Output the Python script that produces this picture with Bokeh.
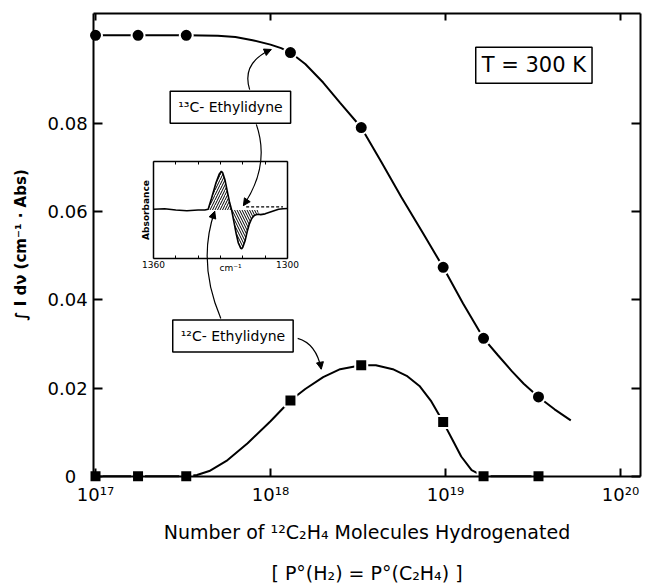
import numpy as np
from bokeh.plotting import figure
from bokeh.models import (Range1d, LinearAxis, LogAxis, FixedTicker, Label, Arrow,
                          NormalHead, LinearScale)
from bokeh.embed import file_html
from bokeh.resources import INLINE

# ---------------- data ----------------
n_hydrogenated = [1.0e17, 1.75e17, 3.3e17, 1.3e18, 3.3e18, 9.7e18, 1.65e19, 3.4e19]
c13_ethylidyne = [0.100, 0.100, 0.100, 0.0961, 0.0791, 0.0474, 0.0313, 0.0180]
c12_ethylidyne = [0.0, 0.0, 0.0, 0.0172, 0.0252, 0.0123, 0.0, 0.0]

# hand-drawn smooth curves
c13_curve_x = [1.0e17, 1.75e17, 3.3e17, 5.0e17, 6.3e17, 7.9e17, 1.0e18, 1.15e18, 1.3e18,
               1.58e18, 2.0e18, 2.5e18, 3.3e18, 4.3e18, 5.6e18, 7.4e18, 9.7e18, 1.26e19,
               1.65e19, 2.0e19, 2.4e19, 2.8e19, 3.4e19, 4.2e19, 5.2e19]
c13_curve_y = [0.100, 0.100, 0.100, 0.0999, 0.0996, 0.0989, 0.0979, 0.0971, 0.0961,
               0.0935, 0.0893, 0.0847, 0.0791, 0.0713, 0.0633, 0.0553, 0.0474, 0.0392,
               0.0313, 0.0274, 0.0238, 0.0210, 0.0180, 0.0152, 0.0127]
c12_curve_x = [1.0e17, 1.75e17, 3.3e17, 3.8e17, 4.47e17, 5.6e17, 7.4e17, 1.0e18, 1.3e18,
               1.58e18, 2.0e18, 2.5e18, 3.3e18, 4.0e18, 5.0e18, 6.0e18, 7.1e18, 8.3e18,
               9.7e18, 1.1e19, 1.23e19, 1.41e19, 1.65e19, 3.4e19]
c12_curve_y = [0.0, 0.0, 0.0, 0.0003, 0.0012, 0.0035, 0.0075, 0.0125, 0.0172,
               0.0198, 0.0225, 0.0243, 0.0252, 0.0252, 0.0243, 0.0228, 0.0205, 0.0170,
               0.0123, 0.0082, 0.0045, 0.0014, 0.0, 0.0]

# inset IR spectrum (difference spectrum)
wavenumber = [1360, 1355, 1350, 1345, 1340, 1337, 1335.5, 1334, 1332, 1330.5, 1329.6, 1329,
              1328, 1327, 1326, 1325, 1324, 1323, 1322, 1321, 1320.5, 1320, 1319, 1318,
              1317, 1316, 1315, 1314, 1313, 1312, 1310, 1308, 1306, 1304, 1302, 1300]
absorbance = [0.02, 0.03, 0.0, -0.02, 0.0, 0.0, 0.02, 0.3, 0.7, 0.93, 1.0, 0.96,
              0.78, 0.5, 0.22, 0.0, -0.3, -0.6, -0.85, -0.98, -1.0, -0.96, -0.8, -0.55,
              -0.35, -0.22, -0.15, -0.12, -0.11, -0.12, -0.1, -0.06, -0.02, 0.02, 0.03, 0.04]
dashed_base_x = [1318.5, 1302]
dashed_base_y = [0.08, 0.08]

x_ticks = [1e17, 1e18, 1e19, 1e20]
x_tick_labels = ["10¹⁷", "10¹⁸", "10¹⁹", "10²⁰"]
y_ticks = [0, 0.02, 0.04, 0.06, 0.08]
inset_ticks = [1300, 1310, 1320, 1330, 1340, 1350, 1360]

# ---------------- layout constants ----------------
# axes box of the graph
BOX_X = (10 ** 16.989, 10 ** 20.114)
BOX_Y = (0.0, 0.1049)
# whole drawing area (the axes are drawn at fixed places inside it)
VIEW_X = (10 ** 16.457, 10 ** 20.143)
VIEW_Y = (-0.0252, 0.1079)
# inset frame, in main-axis coordinates
INSET_L, INSET_R = 10 ** 17.331, 10 ** 18.097
INSET_B, INSET_T = 0.0494, 0.0714
WN_LEFT, WN_RIGHT = 1360, 1300
AB_BOT, AB_TOP = -1.25, 1.25

FONT = "DejaVu Sans"
INK = "black"

p = figure(width=645, height=587, x_axis_type="log",
           x_range=Range1d(*VIEW_X), y_range=Range1d(*VIEW_Y),
           output_backend="svg", toolbar_location=None,
           min_border_left=0, min_border_right=0, min_border_top=0, min_border_bottom=0)
p.outline_line_color = None
p.grid.visible = False
p.background_fill_color = "white"
p.border_fill_color = "white"

frame_style = dict(axis_line_width=2, major_tick_line_width=2, major_tick_out=0,
                   minor_tick_line_color=None, axis_line_color=INK,
                   major_tick_line_color=INK)

# bottom axis, drawn on the y = 0 line
xa = p.below[0]
xa.update(fixed_location=BOX_Y[0], bounds=BOX_X, ticker=FixedTicker(ticks=x_ticks),
          major_label_overrides=dict(zip(x_ticks, x_tick_labels)), major_tick_in=8,
          major_label_standoff=8, major_label_text_font=FONT,
          major_label_text_font_size="18px", major_label_text_color=INK,
          axis_label="Number of ¹²C₂H₄ Molecules Hydrogenated", axis_label_text_font=FONT,
          axis_label_text_font_size="19px", axis_label_text_font_style="normal",
          axis_label_text_color=INK, axis_label_standoff=12, **frame_style)

ya = p.left[0]
ya.update(fixed_location=BOX_X[0], bounds=BOX_Y, ticker=FixedTicker(ticks=y_ticks),
          major_label_overrides={0: "0\u2007"}, major_tick_in=9, major_label_standoff=6,
          major_label_text_font=FONT, major_label_text_font_size="18px",
          major_label_text_color=INK, axis_label="∫ I dν (cm⁻¹ · Abs)",
          axis_label_text_font=FONT, axis_label_text_font_size="15px",
          axis_label_text_font_style="bold", axis_label_text_color=INK,
          axis_label_standoff=14, **frame_style)

top_axis = LogAxis(fixed_location=BOX_Y[1], bounds=BOX_X, ticker=FixedTicker(ticks=x_ticks),
                   major_tick_in=7, major_label_text_color=None, **frame_style)
p.add_layout(top_axis, "above")
right_axis = LinearAxis(fixed_location=BOX_X[1], bounds=BOX_Y,
                        ticker=FixedTicker(ticks=y_ticks), major_tick_in=9,
                        major_label_text_color=None, **frame_style)
p.add_layout(right_axis, "right")

# ---------------- main curves and markers ----------------
p.line(c13_curve_x, c13_curve_y, line_color=INK, line_width=2)
p.line(c12_curve_x, c12_curve_y, line_color=INK, line_width=2)
p.scatter(n_hydrogenated, c13_ethylidyne, marker="circle", size=13,
          fill_color=INK, line_color="white", line_width=2)
p.scatter(n_hydrogenated, c12_ethylidyne, marker="square", size=12,
          fill_color=INK, line_color="white", line_width=2)

# ---------------- inset, mapped onto the main drawing area ----------------
lmin, lmax = np.log10(VIEW_X[0]), np.log10(VIEW_X[1])
fl = (np.log10(INSET_L) - lmin) / (lmax - lmin)
fr = (np.log10(INSET_R) - lmin) / (lmax - lmin)
k = (WN_RIGHT - WN_LEFT) / (fr - fl)
ix = Range1d(WN_LEFT - fl * k, WN_LEFT + (1 - fl) * k)
fb = (INSET_B - VIEW_Y[0]) / (VIEW_Y[1] - VIEW_Y[0])
ft = (INSET_T - VIEW_Y[0]) / (VIEW_Y[1] - VIEW_Y[0])
ky = (AB_TOP - AB_BOT) / (ft - fb)
iy = Range1d(AB_BOT - fb * ky, AB_BOT + (1 - fb) * ky)
p.extra_x_ranges = {"ix": ix}
p.extra_y_ranges = {"iy": iy}
p.extra_x_scales = {"ix": LinearScale()}
p.extra_y_scales = {"iy": LinearScale()}

inset_style = dict(x_range_name="ix", y_range_name="iy", axis_line_width=1.5,
                   minor_tick_line_color=None, major_tick_out=0, major_tick_line_width=1)
inset_labels = {t: "" for t in inset_ticks}
inset_labels[1360] = "1360"
inset_labels[1300] = "1300"
ib = LinearAxis(fixed_location=AB_BOT, bounds=(WN_RIGHT, WN_LEFT),
                ticker=FixedTicker(ticks=inset_ticks), major_label_overrides=inset_labels,
                major_tick_in=3, major_label_standoff=3, major_label_text_font=FONT,
                major_label_text_font_size="9px", major_label_text_color=INK, **inset_style)
p.add_layout(ib, "below")
it = LinearAxis(fixed_location=AB_TOP, bounds=(WN_RIGHT, WN_LEFT),
                ticker=FixedTicker(ticks=inset_ticks), major_tick_in=3,
                major_label_text_color=None, **inset_style)
p.add_layout(it, "above")
il = LinearAxis(fixed_location=WN_LEFT, bounds=(AB_BOT, AB_TOP), ticker=FixedTicker(ticks=[]),
                axis_label="Absorbance", axis_label_text_font=FONT,
                axis_label_text_font_size="9px", axis_label_text_font_style="bold",
                axis_label_text_color=INK, axis_label_standoff=3, **inset_style)
p.add_layout(il, "left")
ir = LinearAxis(fixed_location=WN_RIGHT, bounds=(AB_BOT, AB_TOP),
                ticker=FixedTicker(ticks=[]), **inset_style)
p.add_layout(ir, "right")

wn = np.array(wavenumber)
ab = np.array(absorbance)
pos = (wn <= 1336) & (wn >= 1325)
neg = (wn <= 1325) & (wn >= 1313)
p.varea(x=wn[pos], y1=ab[pos], y2=0, fill_color=None, hatch_pattern="/",
        hatch_color=INK, hatch_weight=1, hatch_scale=5,
        x_range_name="ix", y_range_name="iy")
p.varea(x=wn[neg], y1=ab[neg], y2=0, fill_color=None, hatch_pattern="\\",
        hatch_color=INK, hatch_weight=1, hatch_scale=5,
        x_range_name="ix", y_range_name="iy")
p.line(wavenumber, absorbance, line_color=INK, line_width=1.6,
       x_range_name="ix", y_range_name="iy")
p.line(dashed_base_x, dashed_base_y, line_color=INK, line_width=1.3,
       line_dash="3 2", x_range_name="ix", y_range_name="iy")
p.add_layout(Label(x=1325.5, y=AB_BOT - 0.12, text="cm⁻¹", x_range_name="ix",
                   y_range_name="iy", text_align="center", text_baseline="top",
                   text_font=FONT, text_font_size="9px", text_color=INK))

# ---------------- annotation boxes ----------------
box_style = dict(text_align="center", text_baseline="middle", text_font=FONT,
                 text_color=INK, background_fill_color="white", border_line_color=INK,
                 border_line_width=1.5)
p.add_layout(Label(x=3.2e19, y=0.0932, text="T = 300 K", text_font_size="21px",
                   padding=6, **box_style))
p.add_layout(Label(x=5.9e17, y=0.0837, text="¹³C- Ethylidyne", text_font_size="14px",
                   padding=8, **box_style))
p.add_layout(Label(x=6.1e17, y=0.0318, text="¹²C- Ethylidyne", text_font_size="14px",
                   padding=8, **box_style))

# curved arrows: start, control, end (in main-axis coordinates)
arrows = [
    ((7.6e17, 0.0877), (6.8e17, 0.0938), (1.01e18, 0.0968)),
    ((8.3e17, 0.0798), (1.0e18, 0.0705), (7.0e17, 0.0614)),
    ((1.43e18, 0.0313), (1.83e18, 0.0301), (1.95e18, 0.0243)),
    ((5.2e17, 0.0358), (3.8e17, 0.0485), (4.8e17, 0.0601)),
]
p.quadratic(x0=[a[0][0] for a in arrows], y0=[a[0][1] for a in arrows],
            x1=[a[2][0] for a in arrows], y1=[a[2][1] for a in arrows],
            cx=[a[1][0] for a in arrows], cy=[a[1][1] for a in arrows],
            line_color=INK, line_width=1.2)
for (s, c, e) in arrows:
    le, lc = np.log10(e[0]), np.log10(c[0])
    xs = 10 ** (le - 0.15 * (le - lc))
    ys = e[1] - 0.15 * (e[1] - c[1])
    p.add_layout(Arrow(end=NormalHead(size=7, fill_color=INK, line_color=INK),
                       x_start=xs, y_start=ys, x_end=e[0], y_end=e[1],
                       line_width=1.2, line_color=INK))

bx0, bx1 = np.log10(BOX_X[0]), np.log10(BOX_X[1])
p.add_layout(Label(x=10 ** ((bx0 + bx1) / 2), y=-0.0218, text="[ P°(H₂) = P°(C₂H₄) ]",
                   text_align="center", text_baseline="middle", text_font=FONT,
                   text_font_size="19px", text_color=INK))

open("out.html", "w").write(file_html(p, INLINE))
